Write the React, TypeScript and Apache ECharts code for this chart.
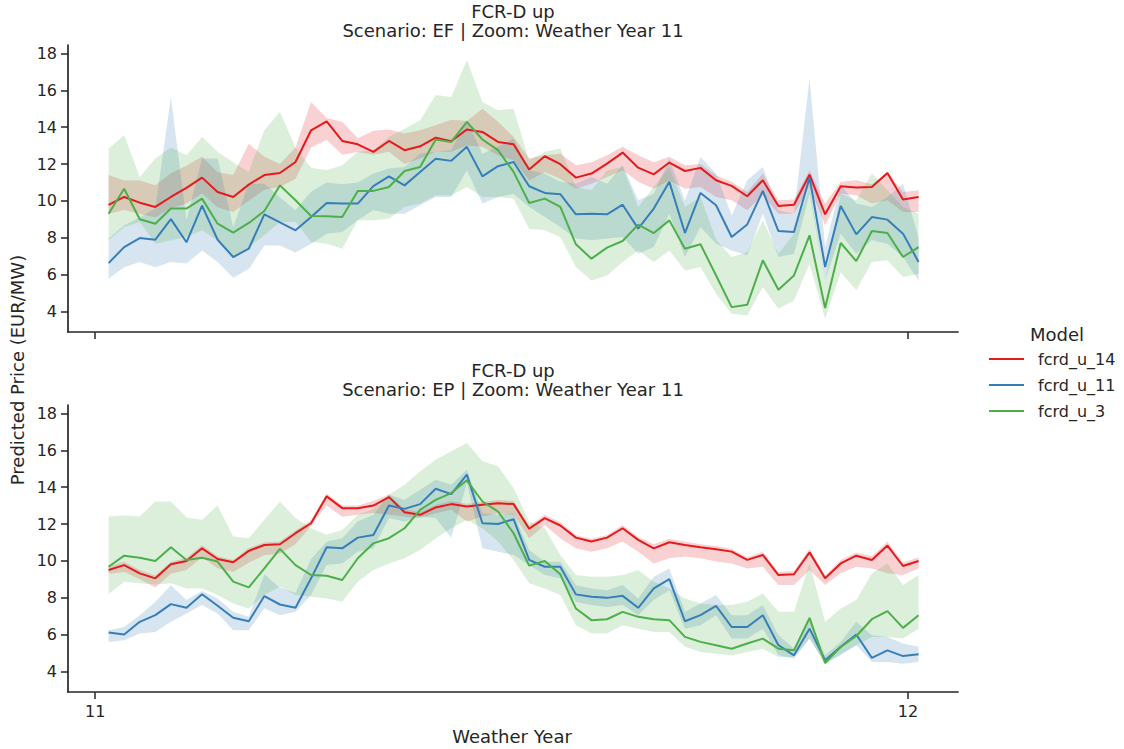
import React, { useEffect, useRef } from "react";
import * as echarts from "echarts";

// ---------- categories / ticks ----------
const models = ["fcrd_u_14", "fcrd_u_11", "fcrd_u_3"];
const modelColors = ["#e41a1c", "#377eb8", "#4daf4a"];
const bandColors = ["rgba(228,26,28,0.2)", "rgba(55,126,184,0.2)", "rgba(77,175,74,0.2)"];
const xTicks = [11, 12];
const yTicks = [4, 6, 8, 10, 12, 14, 16, 18];
// weekly samples (week index within the zoomed weather year)
const weekIndex = Array.from({ length: 53 }, (_, i) => i);
const xs = weekIndex.map((w) => 11 + (6 + 7 * w) / 365.25);

// ---------- Scenario EF ----------
const efRedMean = [9.78,10.21,9.90,9.67,10.21,10.70,11.26,10.48,10.21,10.88,11.40,11.51,12.11,13.83,14.32,13.25,13.07,12.66,
  13.25,12.75,12.96,13.43,13.24,13.87,13.74,13.20,13.07,11.70,12.42,11.99,11.26,11.48,12.02,12.62,11.80,11.44,12.08,11.62,
  11.79,11.12,10.81,10.25,11.12,9.72,9.79,11.42,9.27,10.79,10.72,10.75,11.51,10.07,10.21];
const efRedLow = [9.3,9.5,9.3,9.1,9.6,9.85,10.4,9.65,9.4,10.0,10.6,10.75,11.2,12.9,13.3,12.5,12.65,12.5,
  12.66,12.0,12.3,12.66,12.66,13.0,12.93,12.47,12.2,11.1,11.57,11.2,10.66,10.93,11.3,11.66,11.03,10.66,11.1,10.66,
  10.75,10.21,10.03,9.49,10.3,9.3,9.3,10.75,8.67,10.39,10.3,9.85,10.03,9.4,9.4];
const efRedHigh = [11.4,11.1,11.1,10.85,11.5,11.9,12.4,11.55,11.4,13.1,12.4,12.0,12.9,15.37,14.5,14.3,13.4,13.8,
  13.87,13.65,13.83,14.1,14.4,14.34,15.0,14.3,13.47,12.3,12.47,12.56,11.93,12.1,12.47,12.93,12.47,12.1,12.4,11.93,
  12.0,11.39,11.03,10.48,11.48,10.03,10.07,11.66,9.85,11.03,11.12,10.9,11.57,10.48,10.57];

const efBlueMean = [6.62,7.49,7.98,7.89,9.01,7.75,9.74,7.89,6.95,7.40,9.27,8.83,8.40,9.12,9.88,9.85,9.85,10.8,
  11.33,10.84,11.57,12.29,12.17,12.93,11.33,11.88,12.11,10.79,10.43,10.36,9.27,9.30,9.27,9.79,8.49,9.58,11.03,8.25,
  10.43,9.76,8.04,8.72,10.54,8.36,8.31,11.26,6.41,9.72,8.18,9.12,8.98,8.22,6.68];
const efBlueLow = [5.77,6.4,6.68,6.4,6.68,6.6,7.3,6.68,5.83,6.3,7.58,7.58,7.2,7.67,8.22,8.31,8.94,9.5,
  9.3,9.3,9.76,10.21,10.21,11.66,9.85,10.21,10.39,9.67,9.12,8.58,7.95,7.86,7.95,8.04,7.13,7.5,9.3,6.95,
  8.58,7.67,7.31,7.04,9.3,6.95,7.13,10.39,5.68,8.22,7.13,7.86,7.67,6.95,5.68];
const efBlueHigh = [7.95,8.67,9.1,9.58,15.64,8.94,12.3,12.3,8.58,10.93,10.93,10.2,9.49,10.5,11.0,10.9,11.0,11.48,
  11.75,11.84,12.56,12.66,12.75,14.38,12.56,12.93,13.38,11.66,11.48,11.03,10.93,11.3,10.93,11.93,10.03,10.39,12.29,10.0,
  12.38,11.48,9.21,11.12,11.84,9.49,9.3,16.64,7.5,10.84,9.85,9.67,10.21,10.93,8.0];

const efGreenMean = [9.30,10.66,9.0,8.76,9.58,9.58,10.12,8.76,8.27,8.80,9.45,10.84,10.03,9.18,9.16,9.12,10.54,10.54,
  10.75,11.62,11.84,13.33,13.2,14.29,13.33,12.75,11.57,9.88,10.12,9.67,7.64,6.86,7.46,7.82,8.71,8.25,8.94,7.40,
  7.64,5.95,4.23,4.36,6.77,5.17,5.95,8.13,4.18,7.71,6.73,8.36,8.25,6.95,7.49];
const efGreenLow = [7.86,8.58,8.85,7.67,7.86,8.04,8.4,7.86,6.95,7.5,8.13,8.85,8.85,7.76,7.67,7.4,8.94,8.94,
  9.03,9.67,9.85,10.3,10.3,10.75,10.21,10.21,10.12,8.49,8.4,8.04,6.41,5.68,5.95,6.68,7.31,6.68,7.31,6.22,
  6.41,4.96,3.87,3.78,5.32,4.14,4.59,6.59,3.6,6.13,5.14,6.68,6.77,5.86,6.04];
const efGreenHigh = [12.84,13.56,11.3,12.3,12.9,12.47,13.47,12.66,12.1,11.57,13.83,14.83,12.9,11.8,11.66,11.93,12.66,12.75,
  13.47,13.92,14.38,15.74,15.64,17.64,15.37,14.92,15.0,12.2,12.66,12.84,10.75,10.57,11.66,11.84,9.67,10.75,11.84,9.67,
  10.21,7.9,6.95,7.22,8.94,7.13,8.22,10.75,5.68,10.39,10.03,11.48,10.57,9.67,9.3];

// ---------- Scenario EP ----------
const epRedMean = [9.50,9.77,9.32,9.05,9.81,9.99,10.68,10.10,9.92,10.54,10.86,10.90,11.50,12.04,13.50,12.86,12.86,13.0,
  13.46,12.64,12.5,12.9,13.08,12.95,13.04,13.13,13.08,11.74,12.32,11.92,11.26,11.05,11.26,11.77,11.14,10.68,11.01,10.86,
  10.74,10.63,10.5,10.05,10.32,9.23,9.27,10.46,9.05,9.86,10.28,10.05,10.83,9.72,9.99];
const epRedLow = [9.3,9.4,9.0,8.55,9.3,9.5,10.2,9.6,9.4,9.9,10.3,10.4,10.9,11.9,13.0,12.4,12.5,12.6,
  12.5,12.41,12.32,12.59,12.77,12.14,12.41,12.59,12.5,11.23,11.95,11.23,10.68,10.5,10.68,11.05,10.5,9.86,10.14,10.23,
  10.14,9.96,9.86,9.59,9.68,8.69,8.69,9.5,8.69,9.32,9.68,9.59,9.32,9.23,9.59];
const epRedHigh = [9.7,9.95,9.5,9.2,9.95,10.15,10.85,10.25,10.05,10.7,11.0,11.05,11.65,12.2,13.65,13.0,13.0,13.25,
  13.6,12.8,12.65,13.05,13.25,13.1,13.2,13.3,13.25,11.9,12.5,12.1,11.4,11.2,11.4,11.95,11.3,10.9,11.2,11.05,
  10.9,10.8,10.65,10.2,10.5,9.4,9.45,10.65,9.2,10.05,10.45,10.25,11.05,9.9,10.2];

const epBlueMean = [6.11,6.0,6.69,7.05,7.65,7.45,8.19,7.56,6.91,6.72,8.09,7.63,7.45,9.05,10.74,10.68,11.26,11.4,
  13.0,12.82,13.08,13.91,13.62,14.68,12.04,12.0,12.26,10.05,9.68,9.68,8.18,8.05,7.99,8.1,7.45,8.5,9.01,6.72,
  7.05,7.56,6.41,6.41,7.05,5.42,4.87,6.32,4.6,5.33,6.0,4.73,5.14,4.83,4.93];
const epBlueLow = [5.6,5.69,6.05,6.14,6.69,7.14,7.6,7.14,6.23,6.23,7.42,7.05,7.23,8.14,9.77,9.86,10.5,10.68,
  12.32,12.14,12.41,12.32,11.26,14.22,10.68,10.5,10.32,9.77,9.23,9.05,7.78,7.6,7.5,7.6,7.05,7.87,8.41,6.32,
  6.51,7.05,5.78,5.78,6.32,4.87,4.69,5.78,4.42,4.87,5.42,4.51,4.51,4.42,4.51];
const epBlueHigh = [6.23,6.41,7.05,7.78,8.68,7.87,8.36,7.96,7.23,6.96,9.27,8.54,8.27,10.1,11.05,11.23,12.14,12.5,
  13.59,13.31,13.86,14.4,14.13,14.95,12.59,12.5,12.59,10.59,9.95,9.95,8.69,8.5,8.41,8.69,7.96,9.14,9.59,7.23,
  7.69,8.14,7.05,7.05,7.6,5.96,5.24,6.87,4.87,5.6,6.69,5.96,5.87,5.51,5.33];

const epGreenMean = [9.68,10.28,10.17,9.99,10.74,10.05,10.17,9.96,8.87,8.56,9.59,10.65,9.77,9.23,9.19,8.96,10.14,10.95,
  11.23,11.77,12.77,13.31,13.68,14.37,13.22,12.68,11.5,9.74,9.99,9.27,7.41,6.78,6.83,7.23,6.96,6.83,6.78,5.87,
  5.6,5.42,5.23,5.51,5.78,5.23,5.14,6.9,4.45,5.33,5.92,6.83,7.27,6.36,7.05];
const epGreenLow = [8.19,8.87,8.78,8.72,8.78,8.5,8.5,8.14,7.69,7.41,8.14,8.59,8.14,8.05,7.96,7.78,8.87,9.5,
  9.86,10.14,10.59,11.23,11.77,12.23,11.77,11.05,10.05,8.78,8.5,8.14,6.51,6.05,6.05,6.51,6.32,6.14,6.14,5.33,
  5.05,4.96,4.87,5.05,5.23,4.78,4.78,5.78,4.42,4.96,5.42,5.87,5.87,5.78,6.32];
const epGreenHigh = [12.41,12.46,12.41,13.22,13.22,12.35,12.23,13.0,11.32,11.23,12.23,13.22,12.32,11.77,11.41,11.68,12.5,12.8,
  13.59,14.13,14.86,15.49,15.95,16.4,15.4,15.13,13.95,12.14,11.77,10.32,9.23,9.14,9.14,9.23,9.5,8.87,8.5,7.96,
  7.69,7.6,7.6,7.78,8.23,7.23,7.23,9.86,6.69,7.41,7.87,9.32,9.86,8.69,9.23];

const panelTitles = [
  ["FCR-D up", "Scenario: EF | Zoom: Weather Year 11"],
  ["FCR-D up", "Scenario: EP | Zoom: Weather Year 11"],
];
const panels = [
  [
    [efRedMean, efRedLow, efRedHigh],
    [efBlueMean, efBlueLow, efBlueHigh],
    [efGreenMean, efGreenLow, efGreenHigh],
  ],
  [
    [epRedMean, epRedLow, epRedHigh],
    [epBlueMean, epBlueLow, epBlueHigh],
    [epGreenMean, epGreenLow, epGreenHigh],
  ],
];

const TXT = "#262626";
const FONT = "DejaVu Sans";
const GRID_LEFT = 68;
const GRID_W = 890;
const GRID_TOPS = [45, 405];
const GRID_H = 287;

function bandSeries(gridIdx: number, lo: number[], hi: number[], fill: string) {
  return {
    type: "custom",
    xAxisIndex: gridIdx,
    yAxisIndex: gridIdx,
    silent: true,
    clip: false,
    data: [[xs[0], lo[0]]],
    renderItem: (params: any, api: any) => {
      const pts: number[][] = [];
      for (let i = 0; i < xs.length; i++) pts.push(api.coord([xs[i], hi[i]]));
      for (let i = xs.length - 1; i >= 0; i--) pts.push(api.coord([xs[i], lo[i]]));
      return { type: "polygon", shape: { points: pts }, style: { fill, stroke: "none" } };
    },
  };
}

export default function App() {
  const ref = useRef<HTMLDivElement>(null);
  useEffect(() => {
    if (!ref.current) return;
    const chart = echarts.init(ref.current, null, { renderer: "svg" });
    const series: any[] = [];
    panels.forEach((panel, g) => {
      panel.forEach(([mean, lo, hi], m) => {
        series.push({
          type: "line",
          name: models[m],
          xAxisIndex: g,
          yAxisIndex: g,
          data: xs.map((x, i) => [x, mean[i]]),
          showSymbol: false,
          symbol: "none",
          lineStyle: { color: modelColors[m], width: 2 },
          itemStyle: { color: modelColors[m] },
          silent: true,
        });
        series.push(bandSeries(g, lo, hi, bandColors[m]));
      });
    });

    const grids = GRID_TOPS.map((t) => ({
      left: GRID_LEFT,
      top: t,
      width: GRID_W,
      height: GRID_H,
      containLabel: false,
      outerBoundsMode: "none",
    }));
    const xAxes = [0, 1].map((g) => ({
      type: "value",
      gridIndex: g,
      min: 10.9665,
      max: 12.0615,
      axisLine: { show: true, onZero: false, lineStyle: { color: TXT, width: 1.7 } },
      axisTick: { show: true, customValues: xTicks, length: 7, lineStyle: { color: TXT, width: 1.5 } },
      axisLabel: { show: g === 1, customValues: xTicks, fontSize: 16, color: TXT, fontFamily: FONT, margin: 11 },
      splitLine: { show: false },
    }));
    const yAxes = [0, 1].map((g) => ({
      type: "value",
      gridIndex: g,
      min: 2.88,
      max: 18.46,
      axisLine: { show: true, onZero: false, lineStyle: { color: TXT, width: 1.7 } },
      axisTick: { show: true, customValues: yTicks, length: 7, lineStyle: { color: TXT, width: 1.5 } },
      axisLabel: { show: true, customValues: yTicks, fontSize: 16, color: TXT, fontFamily: FONT, margin: 11 },
      splitLine: { show: false },
    }));

    const graphic: any[] = [];
    panelTitles.forEach((lines, g) => {
      const baseY = g === 0 ? 11 : 370;
      lines.forEach((txt, k) => {
        graphic.push({
          type: "text",
          x: GRID_LEFT + GRID_W / 2,
          y: baseY + k * 19.5,
          style: { text: txt, fontSize: 18, fontFamily: FONT, fill: TXT, textAlign: "center", textVerticalAlign: "middle" },
        });
      });
    });
    graphic.push({
      type: "text",
      x: 17,
      y: 370,
      rotation: Math.PI / 2,
      style: { text: "Predicted Price (EUR/MW)", fontSize: 18, fontFamily: FONT, fill: TXT, textAlign: "center", textVerticalAlign: "middle" },
    });
    graphic.push({
      type: "text",
      x: GRID_LEFT + GRID_W / 2 - 1,
      y: 736,
      style: { text: "Weather Year", fontSize: 18, fontFamily: FONT, fill: TXT, textAlign: "center", textVerticalAlign: "middle" },
    });
    // legend
    graphic.push({
      type: "text",
      x: 1057,
      y: 334,
      style: { text: "Model", fontSize: 18, fontFamily: FONT, fill: TXT, textAlign: "center", textVerticalAlign: "middle" },
    });
    models.forEach((name, m) => {
      const y = 359 + m * 26;
      graphic.push({
        type: "line",
        shape: { x1: 989, y1: y, x2: 1024, y2: y },
        style: { stroke: modelColors[m], lineWidth: 2 },
      });
      graphic.push({
        type: "text",
        x: 1038,
        y: y,
        style: { text: name, fontSize: 16, fontFamily: FONT, fill: TXT, textAlign: "left", textVerticalAlign: "middle" },
      });
    });

    chart.setOption({
      animation: false,
      backgroundColor: "#ffffff",
      grid: grids,
      xAxis: xAxes,
      yAxis: yAxes,
      series,
      graphic,
    });
    return () => chart.dispose();
  }, []);
  return (
    <div
      ref={ref}
      style={{ position: "absolute", left: 0, top: 0, width: 1124, height: 749 }}
    />
  );
}
